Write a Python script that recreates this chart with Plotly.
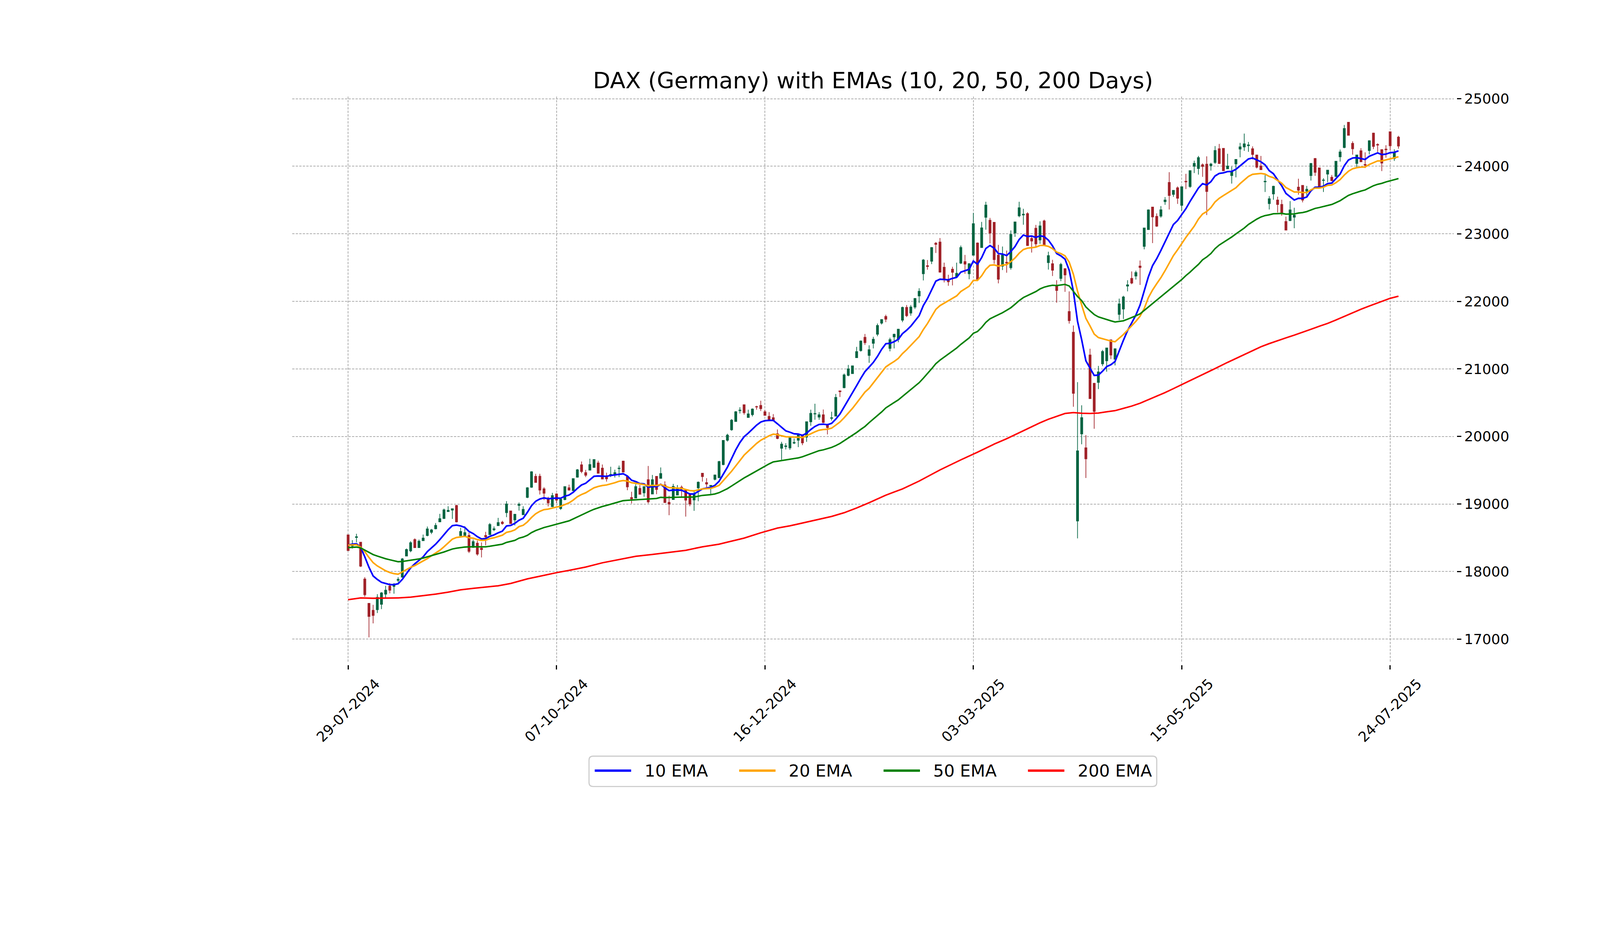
import plotly.graph_objects as go

# trading-day index (0 = 29-07-2024) and daily OHLC
opens = [
    18543, 18380, 18505, 18435, 17889, 17529, 17427, 17436, 17516, 17667,
    17785, 17780, 17870, 17918, 18230, 18307, 18474, 18355, 18457, 18534,
    18582, 18634, 18736, 18786, 18889, 18911, 18979, 18531, 18531, 18534,
    18358, 18420, 18346, 18534, 18547, 18620, 18680, 18731, 18873, 18897,
    18765, 18980, 18843, 19099, 19249, 19410, 19411, 19224, 19066, 18962,
    19149, 18934, 19066, 19240, 19199, 19398, 19580, 19464, 19502, 19542,
    19608, 19531, 19415, 19431, 19431, 19525, 19635, 19406, 19096, 19088,
    19232, 19166, 19360, 19149, 19410, 19381, 19282, 19025, 19066, 19133,
    19249, 19204, 19149, 19061, 19240, 19456, 19317, 19267, 19366, 19390,
    19584, 19944, 20099, 20222, 20382, 20469, 20281, 20323, 20442, 20459,
    20366, 20297, 20277, 20040, 19826, 19851, 19832, 19903, 19944, 20020,
    19990, 20218, 20333, 20287, 20321, 20162, 20269, 20301, 20675, 20723,
    20905, 20931, 21166, 21272, 21467, 21200, 21379, 21513, 21678, 21776,
    21304, 21475, 21439, 21722, 21910, 21827, 21916, 22081, 22409, 22528,
    22594, 22860, 22878, 22504, 22313, 22475, 22364, 22567, 22588, 22409,
    22684, 22863, 22797, 23245, 23200, 23170, 22684, 22522, 22579, 22499,
    23012, 23266, 23280, 23299, 22931, 23081, 22910, 23190, 22574, 22557,
    22227, 22340, 22485, 21849, 21543, 18750, 20038, 19832, 21206, 20787,
    20801, 21076, 21121, 21430, 21145, 21808, 21887, 22227, 22340, 22375,
    22522, 22814, 23062, 23395, 23258, 23263, 23477, 23760, 23583, 23680,
    23422, 23777, 23700, 24000, 23967, 24022, 24030, 24008, 24056, 24259,
    24265, 23963, 23862, 24034, 24254, 24286, 24305, 24259, 24167, 24003,
    23770, 23447, 23590, 23500, 23434, 23182, 23196, 23246, 23690, 23717,
    23632, 23862, 24114, 23976, 23790, 23884, 23836, 23849, 24140, 24278,
    24651, 24339, 24042, 24228, 24026, 24233, 24490, 24322, 24246, 24253,
    24511, 24114, 24431,
]
highs = [
    18548, 18466, 18560, 18440, 17918, 17535, 17508, 17666, 17696, 17790,
    17829, 17830, 17918, 18201, 18341, 18449, 18492, 18474, 18548, 18666,
    18632, 18719, 18854, 18933, 18967, 18932, 18988, 18649, 18671, 18577,
    18474, 18457, 18432, 18589, 18719, 18668, 18796, 18752, 19043, 18897,
    18854, 19022, 18967, 19249, 19486, 19448, 19448, 19249, 19108, 19166,
    19158, 19075, 19260, 19287, 19381, 19519, 19630, 19506, 19671, 19663,
    19642, 19585, 19464, 19552, 19509, 19569, 19642, 19415, 19182, 19293,
    19282, 19257, 19564, 19431, 19410, 19542, 19337, 19124, 19298, 19282,
    19274, 19204, 19149, 19207, 19335, 19459, 19382, 19282, 19436, 19640,
    19945, 20040, 20257, 20376, 20432, 20469, 20396, 20416, 20455, 20529,
    20392, 20360, 20331, 20105, 19921, 19901, 19984, 19970, 20030, 20030,
    20218, 20396, 20485, 20360, 20400, 20188, 20366, 20630, 20679, 20931,
    21059, 21049, 21327, 21422, 21518, 21349, 21475, 21672, 21737, 21803,
    21463, 21522, 21594, 21922, 21946, 21946, 22051, 22194, 22627, 22612,
    22803, 22878, 22937, 22573, 22394, 22513, 22573, 22827, 22687, 22558,
    23310, 22872, 23176, 23475, 23236, 23170, 22836, 22812, 22752, 23051,
    23176, 23475, 23370, 23319, 22955, 23131, 23185, 23210, 22735, 22615,
    22313, 22570, 22485, 22148, 21643, 20804, 20461, 20021, 21299, 20794,
    21045, 21282, 21310, 21437, 21299, 22041, 22083, 22313, 22443, 22454,
    22605, 23086, 23361, 23395, 23302, 23410, 23543, 23913, 23647, 23702,
    23697, 23888, 23935, 24083, 24153, 24043, 24147, 24052, 24299, 24331,
    24265, 24185, 23995, 24106, 24347, 24484, 24360, 24294, 24172, 24153,
    23870, 23558, 23712, 23550, 23505, 23254, 23484, 23386, 23815, 23717,
    23709, 24048, 24122, 23981, 23823, 23947, 23870, 24079, 24246, 24611,
    24655, 24370, 24172, 24267, 24206, 24384, 24497, 24339, 24250, 24312,
    24516, 24251, 24450,
]
lows = [
    18307, 18341, 18432, 18068, 17627, 17027, 17233, 17387, 17444, 17615,
    17678, 17673, 17841, 17910, 18226, 18286, 18349, 18355, 18457, 18522,
    18555, 18625, 18731, 18779, 18885, 18779, 18728, 18531, 18531, 18274,
    18351, 18235, 18209, 18389, 18543, 18600, 18680, 18694, 18805, 18706,
    18683, 18902, 18838, 19088, 19240, 19315, 19141, 19058, 18964, 18955,
    19012, 18912, 19055, 19199, 19191, 19390, 19456, 19398, 19497, 19536,
    19453, 19365, 19332, 19398, 19393, 19398, 19469, 19204, 19008, 19083,
    19141, 19108, 19008, 19144, 19146, 19381, 19017, 18834, 19061, 19128,
    19091, 18814, 18967, 18900, 19041, 19332, 19248, 19149, 19350, 19382,
    19574, 19925, 20085, 20218, 20340, 20323, 20277, 20297, 20396, 20376,
    20307, 20247, 20243, 19960, 19653, 19808, 19802, 19887, 19842, 19871,
    19921, 20158, 20247, 20247, 20198, 20030, 20238, 20297, 20584, 20713,
    20891, 20927, 21161, 21256, 21355, 21090, 21304, 21484, 21657, 21693,
    21260, 21304, 21394, 21693, 21767, 21788, 21887, 21976, 22310, 22469,
    22552, 22716, 22424, 22281, 22230, 22236, 22349, 22552, 22409, 22328,
    22678, 22319, 22791, 23060, 22857, 22558, 22266, 22463, 22424, 22469,
    22955, 23245, 23134, 22821, 22722, 22806, 22851, 22830, 22471, 22375,
    21980, 22299, 22141, 21670, 20440, 18492, 19884, 19385, 20560, 20114,
    20701, 21041, 20959, 21145, 21052, 21722, 21739, 22148, 22254, 22323,
    22244, 22770, 23062, 22863, 23103, 23238, 23430, 23360, 23547, 23443,
    23338, 23663, 23680, 23900, 23877, 23843, 23277, 23935, 24034, 24034,
    23929, 23963, 23743, 23836, 24132, 24228, 24214, 24101, 23968, 23950,
    23619, 23360, 23505, 23315, 23267, 23056, 23188, 23082, 23579, 23466,
    23558, 23788, 23857, 23682, 23619, 23765, 23778, 23841, 24069, 24267,
    24455, 24172, 23989, 24061, 23974, 24175, 24254, 24212, 23929, 24127,
    24238, 24079, 24259,
]
closes = [
    18312, 18409, 18515, 18080, 17658, 17336, 17351, 17619, 17684, 17725,
    17725, 17812, 17885, 18187, 18326, 18427, 18355, 18449, 18495, 18632,
    18617, 18684, 18783, 18914, 18906, 18931, 18736, 18594, 18577, 18300,
    18444, 18260, 18326, 18514, 18697, 18633, 18726, 18711, 19000, 18711,
    18848, 18996, 18920, 19240, 19478, 19320, 19207, 19161, 19017, 19124,
    19058, 19071, 19257, 19207, 19376, 19506, 19481, 19426, 19584, 19658,
    19456, 19370, 19373, 19439, 19464, 19531, 19473, 19254, 19075, 19257,
    19144, 19257, 19033, 19360, 19216, 19451, 19022, 19000, 19260, 19232,
    19224, 19058, 19000, 19149, 19323, 19406, 19297, 19277, 19430, 19628,
    19941, 20020, 20241, 20366, 20390, 20352, 20333, 20406, 20436, 20412,
    20313, 20253, 20243, 19970, 19887, 19861, 19980, 19911, 20020, 19905,
    20218, 20342, 20340, 20321, 20208, 20133, 20277, 20578, 20663, 20911,
    21000, 21045, 21257, 21412, 21390, 21284, 21439, 21642, 21731, 21737,
    21433, 21513, 21588, 21910, 21788, 21916, 22042, 22149, 22612, 22516,
    22797, 22845, 22433, 22328, 22290, 22430, 22415, 22797, 22552, 22558,
    23149, 22328, 23087, 23424, 23012, 22618, 22328, 22684, 22567, 22991,
    23176, 23385, 23290, 22827, 22893, 22851, 23116, 22839, 22677, 22461,
    22162, 22546, 22392, 21715, 20639, 19787, 20279, 19670, 20560, 20371,
    20956, 21258, 21310, 21206, 21299, 21962, 22065, 22244, 22272, 22426,
    22502, 23086, 23354, 23251, 23113, 23355, 23500, 23567, 23643, 23527,
    23697, 23768, 23935, 24042, 24127, 23997, 23627, 24032, 24233, 24040,
    23934, 24003, 23923, 24101, 24286, 24331, 24315, 24175, 23987, 23950,
    23778, 23518, 23704, 23434, 23315, 23056, 23354, 23275, 23645, 23500,
    23659, 24040, 23910, 23690, 23796, 23942, 23788, 24074, 24212, 24558,
    24458, 24259, 24167, 24066, 24016, 24378, 24294, 24314, 24048, 24245,
    24304, 24206, 24299,
]

# moving averages, read at the candles where they could be measured
ema10_idx = list(range(0, 9)) + list(range(10, 86)) + list(range(87, 253))
ema10 = [
    18392, 18406, 18411, 18363, 18218, 18064, 17935, 17884, 17841,
    17807, 17807, 17820, 17884, 17969, 18055, 18115, 18170, 18218, 18295,
    18351, 18406, 18474, 18551, 18620, 18680, 18688, 18676, 18654, 18594,
    18563, 18517, 18483, 18488, 18522, 18543, 18574, 18598, 18676, 18683,
    18714, 18760, 18789, 18876, 18975, 19041, 19075, 19091, 19078, 19083,
    19088, 19086, 19116, 19133, 19174, 19232, 19282, 19307, 19360, 19411,
    19415, 19415, 19410, 19423, 19431, 19443, 19448, 19415, 19353, 19332,
    19303, 19298, 19249, 19260, 19257, 19293, 19240, 19199, 19207, 19207,
    19204, 19177, 19149, 19149, 19187, 19224,
    19248, 19277, 19337, 19436, 19545, 19673, 19802, 19911, 19996, 20049,
    20109, 20168, 20214, 20234, 20238, 20238, 20188, 20133, 20083, 20063,
    20040, 20036, 20016, 20049, 20103, 20148, 20178, 20182, 20174, 20194,
    20257, 20333, 20436, 20544, 20643, 20752, 20861, 20960, 21027, 21096,
    21185, 21290, 21373, 21379, 21403, 21439, 21522, 21573, 21633, 21708,
    21788, 21937, 22042, 22170, 22299, 22328, 22325, 22319, 22340, 22355,
    22433, 22454, 22475, 22597, 22549, 22648, 22782, 22827, 22788, 22707,
    22701, 22678, 22737, 22812, 22916, 22982, 22960, 22967, 22946, 22970,
    22959, 22907, 22821, 22708, 22674, 22625, 22461, 22151, 21704, 21430,
    21121, 21011, 20904, 20908, 20966, 21035, 21062, 21110, 21268, 21423,
    21567, 21681, 21797, 21945, 22151, 22364, 22529, 22632, 22753, 22880,
    23017, 23138, 23197, 23280, 23372, 23480, 23580, 23677, 23743, 23722,
    23772, 23857, 23894, 23902, 23921, 23923, 23955, 24008, 24061, 24108,
    24122, 24093, 24066, 24021, 23934, 23889, 23796, 23709, 23598, 23550,
    23500, 23526, 23524, 23545, 23637, 23690, 23690, 23704, 23743, 23751,
    23815, 23884, 24008, 24093, 24122, 24127, 24114, 24101, 24148, 24175,
    24198, 24172, 24180, 24201, 24206, 24228,
]

ema20_idx = list(range(0, 13)) + list(range(14, 86)) + list(range(87, 253))
ema20 = [
    18392, 18394, 18397, 18363, 18295, 18209, 18132, 18084, 18046, 18012,
    17986, 17969, 17961,
    18029, 18064, 18089, 18123, 18158, 18192, 18235, 18278, 18315, 18367,
    18423, 18480, 18505, 18514, 18522, 18500, 18495, 18474, 18461, 18466,
    18488, 18500, 18517, 18538, 18581, 18594, 18617, 18666, 18685, 18735,
    18801, 18856, 18892, 18917, 18925, 18942, 18955, 18967, 18992, 19017,
    19058, 19108, 19141, 19166, 19204, 19240, 19260, 19274, 19282, 19298,
    19315, 19337, 19348, 19340, 19315, 19307, 19298, 19287, 19270, 19277,
    19274, 19290, 19265, 19244, 19240, 19237, 19232, 19216, 19199, 19194,
    19207, 19224,
    19232, 19251, 19277, 19347, 19416, 19485, 19564, 19644, 19723, 19782,
    19842, 19897, 19944, 19980, 20010, 20034, 20026, 20010, 19996, 19994,
    19990, 19990, 19984, 20010, 20040, 20069, 20093, 20103, 20107, 20123,
    20168, 20214, 20277, 20346, 20416, 20495, 20574, 20657, 20713, 20791,
    20872, 20952, 21030, 21072, 21110, 21155, 21227, 21284, 21349, 21409,
    21478, 21582, 21672, 21776, 21881, 21937, 21973, 22006, 22042, 22081,
    22146, 22185, 22224, 22310, 22310, 22379, 22475, 22534, 22540, 22522,
    22537, 22543, 22588, 22642, 22713, 22767, 22788, 22794, 22803, 22827,
    22828, 22814, 22780, 22729, 22708, 22674, 22581, 22402, 22151, 21945,
    21749, 21636, 21516, 21464, 21447, 21430, 21413, 21402, 21454, 21509,
    21574, 21636, 21705, 21780, 21894, 22055, 22168, 22261, 22351, 22454,
    22564, 22677, 22763, 22856, 22947, 23030, 23113, 23217, 23293, 23330,
    23388, 23472, 23526, 23566, 23603, 23643, 23682, 23743, 23796, 23849,
    23881, 23889, 23894, 23884, 23849, 23831, 23788, 23749, 23685, 23651,
    23619, 23619, 23611, 23611, 23651, 23677, 23677, 23690, 23717, 23722,
    23757, 23802, 23870, 23926, 23963, 23979, 23987, 23989, 24026, 24053,
    24079, 24079, 24095, 24111, 24122, 24140,
]

ema50_idx = [0] + list(range(2, 86)) + list(range(87, 253))
ema50 = [
    18355,
    18363, 18351, 18320, 18286, 18252, 18230, 18209, 18190, 18175, 18158,
    18146, 18149, 18158, 18166, 18175, 18187, 18200, 18218, 18235, 18252,
    18269, 18290, 18312, 18334, 18346, 18355, 18363, 18367, 18367, 18367,
    18363, 18367, 18375, 18384, 18394, 18406, 18432, 18445, 18462, 18495,
    18511, 18536, 18577, 18607, 18630, 18652, 18668, 18685, 18702, 18718,
    18735, 18751, 18779, 18809, 18838, 18867, 18896, 18922, 18945, 18964,
    18980, 18998, 19017, 19033, 19050, 19055, 19058, 19061, 19065, 19068,
    19070, 19078, 19083, 19099, 19096, 19095, 19098, 19101, 19101, 19101,
    19099, 19104, 19116, 19128,
    19139, 19149, 19168, 19198, 19228, 19267, 19307, 19347, 19386, 19420,
    19455, 19489, 19525, 19564, 19594, 19624, 19634, 19644, 19653, 19663,
    19673, 19683, 19699, 19723, 19746, 19768, 19790, 19802, 19818, 19838,
    19865, 19897, 19937, 19976, 20016, 20059, 20105, 20148, 20205, 20256,
    20309, 20363, 20423, 20465, 20503, 20542, 20593, 20644, 20692, 20742,
    20796, 20862, 20930, 21002, 21077, 21130, 21175, 21220, 21265, 21309,
    21363, 21414, 21459, 21527, 21554, 21614, 21689, 21742, 21772, 21796,
    21832, 21868, 21906, 21957, 22011, 22056, 22086, 22115, 22145, 22184,
    22210, 22227, 22238, 22234, 22244, 22251, 22227, 22148, 22072, 22011,
    21918, 21860, 21805, 21770, 21750, 21729, 21712, 21695, 21702, 21712,
    21736, 21760, 21787, 21815, 21866, 21918, 21970, 22014, 22066, 22117,
    22169, 22220, 22272, 22323, 22382, 22433, 22492, 22547, 22615, 22657,
    22708, 22781, 22834, 22873, 22918, 22953, 22998, 23040, 23085, 23138,
    23180, 23217, 23249, 23270, 23281, 23297, 23299, 23302, 23291, 23291,
    23294, 23307, 23315, 23329, 23355, 23376, 23389, 23403, 23421, 23434,
    23461, 23490, 23530, 23569, 23593, 23614, 23633, 23649, 23680, 23712,
    23733, 23747, 23768, 23786, 23805, 23818,
]

ema200_idx = [
    0, 3, 6, 12, 15, 18, 21, 24, 27, 30, 33, 36, 39, 43, 46, 50, 53, 57,
    61, 66, 69, 73, 77, 81, 85, 89, 91, 95, 99, 103, 106, 110, 113, 116,
    119, 122, 125, 129, 133, 137, 142, 147, 151, 155, 158, 161, 164, 166,
    168, 170, 172, 174, 176, 178, 180, 182, 184, 186, 188, 190, 192, 194,
    196, 198, 200, 202, 204, 206, 208, 211, 213, 215, 217, 219, 221, 223,
    225, 227, 229, 231, 233, 235, 237, 239, 241, 243, 245, 247, 249, 250,
    252,
]
ema200 = [
    17584, 17610, 17605, 17610, 17622, 17644, 17666, 17695, 17730, 17752,
    17769, 17790, 17824, 17892, 17931, 17984, 18018, 18067, 18130, 18191,
    18226, 18254, 18282, 18315, 18367, 18406, 18436, 18495, 18574, 18644,
    18677, 18733, 18772, 18816, 18871, 18941, 19020, 19131, 19224, 19340,
    19505, 19654, 19767, 19887, 19967, 20057, 20146, 20203, 20255, 20296,
    20341, 20354, 20344, 20341, 20347, 20365, 20382, 20416, 20450, 20492,
    20543, 20595, 20650, 20708, 20767, 20825, 20887, 20949, 21005, 21097,
    21156, 21211, 21269, 21328, 21375, 21420, 21460, 21500, 21542, 21587,
    21632, 21674, 21724, 21777, 21833, 21883, 21931, 21978, 22023, 22045,
    22076,
]

tick_pos = [0, 50, 100, 150, 200, 250]
tick_labels = ['29-07-2024', '07-10-2024', '16-12-2024', '03-03-2025',
               '15-05-2025', '24-07-2025']
y_ticks = [17000, 18000, 19000, 20000, 21000, 22000, 23000, 24000, 25000]

FONT = 'DejaVu Sans'
UP = '#006340'
DOWN = '#A02128'
GRID = '#b0b0b0'

# the page is photographed narrower than 4800 css px, so the whole
# figure is laid out on a 4800x2400 design grid and scaled down by S
S = 0.8625
BODY = 8            # default page margin around the plot div (css px)
W, H = 4800, 2400
ML, MR, MT = 867, 485, 286
MB = 428            # x axis sits 8 px under the bottom of the plotting area
X_GAP = 8
PLOT_W = W - ML - MR
PLOT_H = H - MT - MB


def px(v):
    return v * S


def paper_x(x):
    # design-grid x pixel -> paper fraction of the plot area
    return (x - ML) / PLOT_W


def paper_y(y):
    return (H - MB - y) / PLOT_H


candle_x = list(range(len(closes)))

fig = go.Figure()
fig.add_trace(
    go.Candlestick(
        x=candle_x,
        open=opens,
        high=highs,
        low=lows,
        close=closes,
        increasing=dict(line=dict(color=UP, width=px(2)), fillcolor=UP),
        decreasing=dict(line=dict(color=DOWN, width=px(2)), fillcolor=DOWN),
        whiskerwidth=0,
        showlegend=False,
        hoverinfo='skip',
        name='DAX'
    )
)

ema_series = [
    (ema10_idx, ema10, '10 EMA', 'blue', 4.8),
    (ema20_idx, ema20, '20 EMA', 'orange', 4.6),
    (ema50_idx, ema50, '50 EMA', 'green', 4.4),
    (ema200_idx, ema200, '200 EMA', 'red', 4.4),
]
for xs, ys, label, color, lw in ema_series:
    fig.add_trace(
        go.Scatter(
            x=xs,
            y=ys,
            mode='lines',
            name=label,
            showlegend=False,
            line=dict(color=color, width=px(lw))
        )
    )

# centred, rotated date labels under the ticks
for pos, label in zip(tick_pos, tick_labels):
    fig.add_annotation(
        x=pos, xref='x',
        y=paper_y(2107), yref='paper',
        text=label,
        textangle=-45,
        showarrow=False,
        xanchor='center',
        yanchor='middle',
        font=dict(family=FONT, size=px(42), color='black')
    )

# legend box drawn like the matplotlib one (long line handles)
bx0, bx1 = paper_x(1748), paper_x(3433)
by0, by1 = paper_y(2333), paper_y(2243)
rx, ry = 12 / PLOT_W, 12 / PLOT_H
box_path = (
    f'M {bx0 + rx},{by0} L {bx1 - rx},{by0} Q {bx1},{by0} {bx1},{by0 + ry} '
    f'L {bx1},{by1 - ry} Q {bx1},{by1} {bx1 - rx},{by1} '
    f'L {bx0 + rx},{by1} Q {bx0},{by1} {bx0},{by1 - ry} '
    f'L {bx0},{by0 + ry} Q {bx0},{by0} {bx0 + rx},{by0} Z'
)
fig.add_shape(
    type='path', path=box_path, xref='paper', yref='paper',
    line=dict(color='#cccccc', width=px(3.3)), fillcolor='white', layer='above'
)
legend_y = paper_y(2286)
for k, (_, _, label, color, _) in enumerate(ema_series):
    x0 = 1765 + k * 428.6
    fig.add_shape(
        type='line', xref='paper', yref='paper',
        x0=paper_x(x0), x1=paper_x(x0 + 108), y0=legend_y, y1=legend_y,
        line=dict(color=color, width=px(7)), layer='above'
    )
    fig.add_annotation(
        x=paper_x(x0 + 145), xref='paper',
        y=legend_y, yref='paper',
        text=label,
        showarrow=False,
        xanchor='left',
        yanchor='middle',
        font=dict(family=FONT, size=px(50), color='black')
    )

fig.update_layout(
    width=round(px(W)),
    height=round(px(H)),
    margin=dict(l=px(ML) - BODY, r=px(MR) + BODY,
                t=px(MT) - BODY, b=px(MB) + BODY, pad=0),
    paper_bgcolor='white',
    plot_bgcolor='white',
    font=dict(family=FONT, color='black'),
    title=dict(
        text='DAX (Germany) with EMAs (10, 20, 50, 200 Days)',
        x=0.5, xref='paper', xanchor='center',
        y=1 - (px(239) - BODY) / px(H), yref='container', yanchor='middle',
        font=dict(family=FONT, size=px(67), color='black')
    ),
    showlegend=False,
    xaxis=dict(
        range=[-13.42, 265.3],
        anchor='free',
        position=0,
        tickvals=tick_pos,
        showticklabels=False,
        ticks='outside',
        ticklen=px(13),
        tickwidth=px(3),
        tickcolor='black',
        showgrid=True,
        gridcolor=GRID,
        gridwidth=px(2),
        griddash=f'{px(7):.1f}px,{px(3.5):.1f}px',
        zeroline=False,
        showline=False,
        rangeslider=dict(visible=False)
    ),
    yaxis=dict(
        range=[16660, 25032],
        domain=[X_GAP / PLOT_H, 1],
        side='right',
        anchor='free',
        position=1,
        shift=round(px(8)),
        tickvals=y_ticks,
        ticktext=[str(v) for v in y_ticks],
        tickfont=dict(family=FONT, size=px(42), color='black'),
        ticks='outside',
        ticklen=px(13),
        tickwidth=px(3),
        tickcolor='black',
        ticklabelstandoff=0,
        showgrid=True,
        gridcolor=GRID,
        gridwidth=px(2),
        griddash=f'{px(7):.1f}px,{px(3.5):.1f}px',
        zeroline=False,
        showline=False
    )
)

fig.write_html("out.html")
